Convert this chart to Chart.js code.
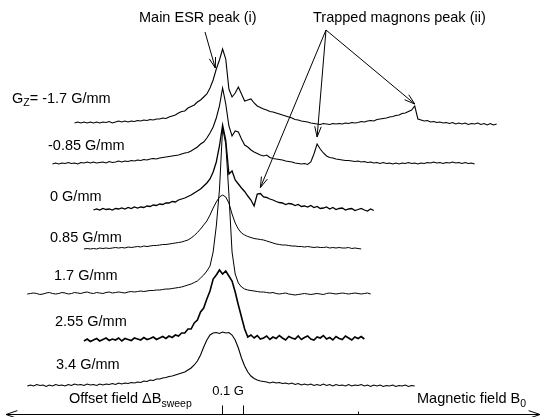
<!DOCTYPE html>
<html>
<head>
<meta charset="utf-8">
<script src="https://cdn.jsdelivr.net/npm/chart.js@4.4.0/dist/chart.umd.min.js"></script>
<style>
  html, body { margin: 0; padding: 0; background: #fff; }
  #wrap { width: 546px; height: 417px; }
</style>
</head>
<body>
<div id="wrap"><canvas id="esr" width="546" height="417"></canvas></div>
<script>
// --- Data ---
// field gradient of each sweep (G/mm), top to bottom
const gradients = ['-1.7', '-0.85', '0', '0.85', '1.7', '2.55', '3.4'];
// first field point of each sweep, in mG from the main line
const sweepStart = [-700, -805, -610, -655, -925, -655, -925];
const fieldStep = 15; // mG between samples
// vertical stacking of the sweeps (arb. units)
const stackOffset = [293, 253, 207, 168, 123, 76, 31];

// ESR signal of each sweep (arb. units above its own baseline)
const sigM170 = [
  1, 2, 1, 2, 1, 2, 1, 2, 1, 2,
  1.5, 2.5, 1, 2, 3, 2, 3, 2, 3, 2.5,
  3.5, 3, 4, 3.5, 4.5, 4, 5, 5, 6, 5.5,
  7, 8, 9, 11, 12.5, 13, 16, 17.5, 19, 22,
  24, 27, 30, 36, 44, 55, 64, 75, 65, 35,
  27, 31, 37, 30, 23, 24, 25, 21, 18, 16.5,
  15, 14, 12.5, 12, 11, 10, 9, 8, 7, 6,
  4.5, 4, 3, 2.5, 2, 1, 0.5, 0, -0.5, 0.5,
  0, -0.5, 0.5, 0, 0.5, 0, 1, 0.5, 1.5, 1,
  1.5, 2.5, 2, 3, 3.5, 3, 4.5, 5, 5.5, 6,
  7, 7.5, 8.5, 9, 10.5, 11, 12.5, 14, 18, 5,
  4, 3, 3.5, 2, 2.5, 1.5, 2, 1, 1.5, 0.5,
  1.5, 0, 1, 0, 1, -0.5, 0.5, 0, 1, -0.5,
  0.5, -1, 0.5, -1, 0
];
const sigM085 = [
  0, 1, 0, 1, 0.5, 1.5, 0.5, 1, 0, 1.5,
  1, 2, 1, 2, 1, 1.5, 2, 1, 2.5, 1.5,
  2, 3, 2, 3, 2.5, 3.5, 3, 4, 3.5, 4.5,
  4, 5, 5.5, 5, 6, 6.5, 7, 7.5, 8, 8.5,
  9, 10, 11, 11.5, 13, 15, 17, 20, 22, 26,
  31, 37, 46, 58, 76, 60, 38, 28, 33, 32,
  25, 19, 17, 14, 12, 10.5, 9, 8, 9, 6.5,
  5.5, 5, 4.5, 4, 3, 2.5, 2, 1, 0.5, 0,
  0.5, -0.5, 2, 10, 20, 15, 11, 8, 6.5, 6,
  5, 4.5, 4, 3.5, 3.5, 3, 2.5, 3, 2, 2.5,
  1.5, 2, 1, 1.5, 0.5, 1.5, 0.5, 1, 0, 1,
  0, 1, 0.5, 1.5, 0.5, 1, 0, 1, 0.5, 1.5,
  1, 2, 1, 1.5, 0.5, 1.5, 1, 2, 1, 1.5,
  0.5, 1.5, 0.5, 1, 0
];
const sig000 = [
  0, 1, 0, 1.5, 0.5, 1, 0, 1.5, 1, 2,
  1, 2.5, 1.5, 3, 2, 3, 2.5, 4, 3.5, 5,
  4.5, 6, 5.5, 7, 7, 8.5, 8, 10, 11, 12,
  13.5, 15, 17, 19, 21, 24, 27, 31, 38, 48,
  64, 85, 70, 36, 39, 30, 26, 22, 18.5, 14,
  10, 4, 16, 16.5, 13, 12.5, 11, 10, 8.5, 7.5,
  7, 5.5, 6.5, 6, 4.5, 5.5, 3.5, 4, 3, 4.5,
  2.5, 3.5, 1.5, 2, 3, 1, 2.5, 0.5, 1.5, 2,
  0, 1, 1.5, -0.5, 0.5, 1.5, 0, -1, 1, -0.5
];
const sig085 = [
  0, 0.5, 0, 0.5, 0, 1, 0.5, 1, 0.5, 1,
  1.5, 1, 1.5, 1, 2, 1.5, 2, 2.5, 2, 3,
  2.5, 3, 3.5, 3.5, 4, 4.5, 4.5, 5, 5.5, 6,
  6.5, 7, 8, 9, 11, 13.5, 16.5, 20, 24, 28,
  34, 41, 47, 52, 54, 52, 46, 35, 26, 20,
  16, 14, 12.5, 11.5, 10.5, 10, 9.5, 9, 8, 7,
  6, 5, 4.5, 4, 4, 3.5, 3, 3, 2.5, 2.5,
  2, 2.5, 2, 1.5, 2, 1.5, 1.5, 2, 1, 1.5,
  1, 1.5, 1, 1, 1.5, 0.5, 1, 0.5, 0
];
const sig170 = [
  0, 0.5, 1, 0.5, -0.5, 0, 1, 1.5, 0.5, 0,
  0.5, 1.5, 1, 0, 0.5, 1.5, 1, 0.5, 1.5, 2,
  1, 0.5, 1.5, 1, 0.5, 1.5, 2, 1, 1.5, 2,
  1.5, 1, 2, 2.5, 2, 2.5, 3, 2.5, 3, 3.5,
  3.5, 4, 4, 4.5, 5, 5, 5.5, 6, 6.5, 7,
  8, 9, 10, 11.5, 13, 16, 19, 23, 28, 42,
  68, 104, 166, 150, 100, 42, 20, 11, 7, 5,
  4, 3.5, 3, 2.5, 2, 2, 1.5, 1, 1.5, 0.5,
  0, 0.5, 1, 0, -0.5, -1, -0.5, 0, 0.5, 0,
  -0.5, 0, 0.5, 0, -0.5, 0.5, 1, 0.5, 0, 0.5,
  1, 0.5, 0, 0.5, 1, 0.5, 0, 0.5, 1, 0
];
const sig255 = [
  0, 2, -0.5, 1, 2.5, 0, 1.5, 3, 0.5, 2,
  1, 3, 0, 2.5, 1.5, 0.5, 3, 2, 1, 3.5,
  1.5, 2.5, 4, 1.5, 3, 4.5, 2.5, 5, 3.5, 6,
  5, 8, 8, 12, 12, 18, 21, 29, 33, 42,
  50, 62, 66, 71, 67, 70, 65, 60, 49, 36,
  24, 12, 4, 6, 3, 5.5, 2, 3, 5, 1.5,
  4, 2.5, 5.5, 3, 1, 4.5, 3, 2, 5, 1.5,
  3.5, 5, 2, 1, 4, 3, 5.5, 2, 3.5, 1,
  4.5, 2.5, 1.5, 5, 3, 1, 4, 2.5, 4.5, 2
];
const sig340 = [
  0, 1, 0, 1.5, 0.5, 1, -0.5, 1, 0, 1.5,
  0.5, 1, 0, 1.5, 0.5, 2, 1, 1.5, 0.5, 2,
  1, 1.5, 0.5, 2, 1, 2, 1.5, 2.5, 1.5, 3,
  2, 3, 2.5, 3.5, 3, 4, 3.5, 5, 4.5, 6,
  5.5, 7, 7, 8, 8.5, 9.5, 10, 11, 12, 13,
  14, 16, 18, 21, 25, 31, 39, 46, 51, 53,
  53.5, 52.5, 54, 53, 53.5, 51, 46, 38, 28, 20,
  14, 10, 7.5, 6, 5, 4.5, 4, 3, 4, 3,
  3.5, 2.5, 3, 2, 3, 1.5, 2.5, 1, 2, 1,
  2, 0.5, 1.5, 0.5, 2, 0.5, 1.5, 0, 1.5, 0.5,
  1, 0, 1.5, 0, 1, 0.5, 1.5, 0, 1, -0.5,
  1, 0, 1, -0.5, 0.5, 0, 1, -0.5, 0.5, 0,
  1, -0.5, 0.5, 0
];
const signals = [sigM170, sigM085, sig000, sig085, sig170, sig255, sig340];

// sample index of the trapped magnon peak in the first three sweeps
const magnonPeakIdx = [108, 84, 53];
// 0.1 G scale bar on the field axis (mG)
const scaleBar = [0, 100];

// --- Styles ---
const lineWidths = [1.1, 1.1, 1.3, 1, 1, 1.6, 1.1];
const FONT = '14.5px "Liberation Sans", Arial, sans-serif';
const SUB_FONT = '10.5px "Liberation Sans", Arial, sans-serif';
const labelPos = [[12, 103], [48, 150], [50, 201], [50, 242], [54, 280], [55, 326], [56, 369]];

function drawParts(ctx, parts, x, y) {
  let cx = x;
  parts.forEach(([t, sub]) => {
    ctx.font = sub ? SUB_FONT : FONT;
    ctx.fillText(t, cx, sub ? y + sub : y);
    cx += ctx.measureText(t).width;
  });
}

function arrow(ctx, x0, y0, x1, y1, len, spread) {
  const a = Math.atan2(y1 - y0, x1 - x0);
  ctx.beginPath();
  ctx.moveTo(x0, y0);
  ctx.lineTo(x1, y1);
  ctx.moveTo(x1 - len * Math.cos(a - spread), y1 - len * Math.sin(a - spread));
  ctx.lineTo(x1, y1);
  ctx.lineTo(x1 - len * Math.cos(a + spread), y1 - len * Math.sin(a + spread));
  ctx.stroke();
}

// labels, arrows and the field axis
const annotations = {
  id: 'annotations',
  afterDraw(chart) {
    const ctx = chart.ctx;
    const xs = chart.scales.x, ys = chart.scales.y;
    const pt = (n, i) => ({
      x: xs.getPixelForValue(sweepStart[n] + i * fieldStep),
      y: ys.getPixelForValue(stackOffset[n] + signals[n][i])
    });

    ctx.save();
    ctx.fillStyle = '#000';
    ctx.strokeStyle = '#000';
    ctx.lineWidth = 1;
    ctx.textBaseline = 'alphabetic';

    // sweep labels
    gradients.forEach((g, n) => {
      const [lx, ly] = labelPos[n];
      if (n === 0) drawParts(ctx, [['G'], ['Z', 3], ['= ' + g + ' G/mm']], lx, ly);
      else drawParts(ctx, [[g + ' G/mm']], lx, ly);
    });

    // peak annotations
    drawParts(ctx, [['Main ESR peak (i)']], 139, 22);
    drawParts(ctx, [['Trapped magnons peak (ii)']], 313, 22);

    const main = pt(0, 45);
    arrow(ctx, 205, 32, main.x - 1, main.y - 1, 11, 0.3);
    const gaps = [2, 7, 6];
    magnonPeakIdx.forEach((idx, n) => {
      const p = pt(n, idx);
      arrow(ctx, 326, 30, p.x, p.y - gaps[n], 11, 0.3);
    });

    // field axis with double arrow
    const axisY = 414.5;
    arrow(ctx, 273, axisY, 540, axisY, 12, 0.33);
    arrow(ctx, 273, axisY, 6, axisY, 12, 0.33);
    ctx.beginPath();
    scaleBar.forEach(v => {
      const px = Math.round(xs.getPixelForValue(v)) + 0.5;
      ctx.moveTo(px, axisY - 9);
      ctx.lineTo(px, axisY);
    });
    ctx.moveTo(358.5, axisY - 3);
    ctx.lineTo(358.5, axisY);
    ctx.stroke();

    ctx.font = '13px "Liberation Sans", Arial, sans-serif';
    ctx.textAlign = 'center';
    ctx.fillText('0.1 G', xs.getPixelForValue((scaleBar[0] + scaleBar[1]) / 2) - 4, 395);
    ctx.textAlign = 'left';
    drawParts(ctx, [['Offset field \u0394B'], ['sweep', 4]], 69, 403);
    drawParts(ctx, [['Magnetic field B'], ['0', 4]], 417, 403);
    ctx.restore();
  }
};

// --- Chart ---
const datasets = signals.map((sig, n) => ({
  label: gradients[n] + ' G/mm',
  data: sig.map((v, i) => ({ x: sweepStart[n] + i * fieldStep, y: stackOffset[n] + v })),
  borderColor: '#000',
  borderWidth: lineWidths[n],
  pointRadius: 0,
  showLine: true,
  tension: 0,
  fill: false
}));

new Chart(document.getElementById('esr'), {
  type: 'scatter',
  data: { datasets },
  options: {
    responsive: false,
    animation: false,
    devicePixelRatio: 1,
    layout: { padding: 0 },
    plugins: { legend: { display: false }, tooltip: { enabled: false } },
    scales: {
      x: { type: 'linear', min: -1055, max: 1545, display: false },
      y: { type: 'linear', min: 0, max: 417, display: false }
    }
  },
  plugins: [annotations]
});
</script>
</body>
</html>
